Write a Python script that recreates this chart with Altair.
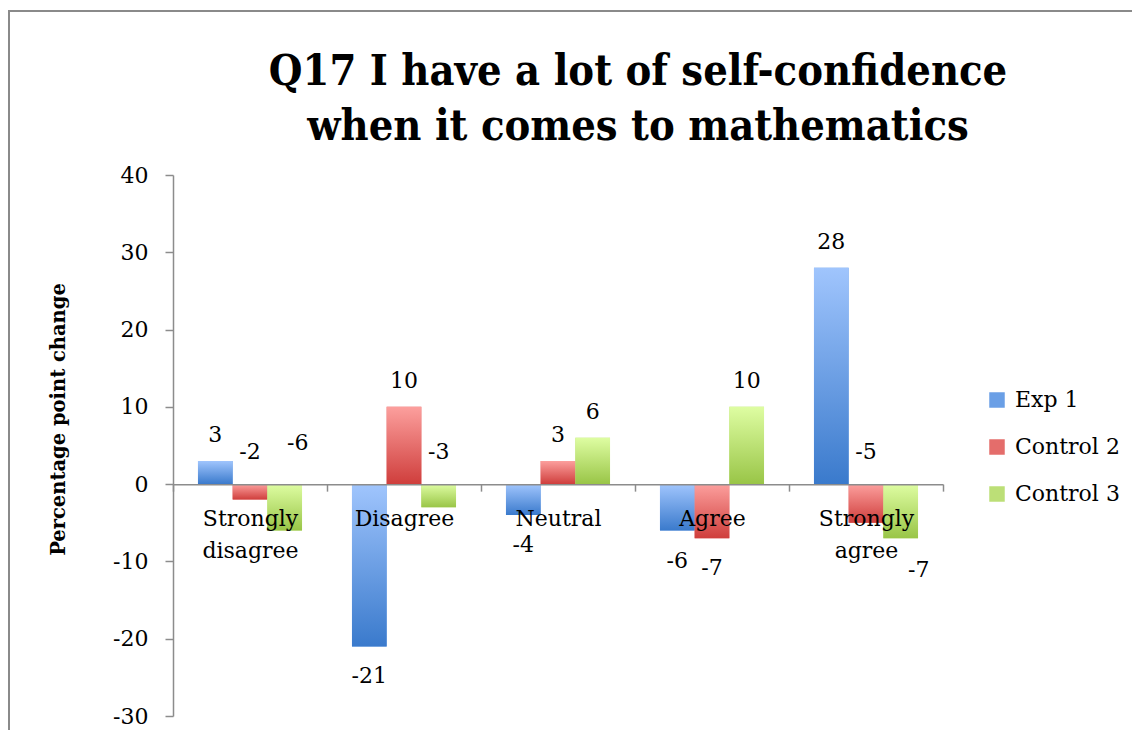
import altair as alt
import pandas as pd

# ---- data ----
categories = ["Strongly disagree", "Disagree", "Neutral", "Agree", "Strongly agree"]
series = ["Exp 1", "Control 2", "Control 3"]
exp1 = [3, -21, -4, -6, 28]
control2 = [-2, 10, 3, -7, -5]
control3 = [-6, -3, 6, 10, -7]
# where each value label sits: "out" = beyond bar end, "above" = above zero line,
# "_r" = nudged to the right as in the reference
exp1_place = ["out", "out", "out", "out", "out"]
control2_place = ["above", "out", "out", "out", "above"]
control3_place = ["above_r", "above", "out", "out", "out_r"]

title_text = "Q17 I have a lot of self-confidence\nwhen it comes to mathematics"
y_title = "Percentage point change"
y_ticks = [-30, -20, -10, 0, 10, 20, 30, 40]

mid_colors = ["#6a9fe6", "#e46d6b", "#bcdf77"]
grad_colors = {
    "Exp 1": ("#a0c5fd", "#3a7acc"),
    "Control 2": ("#fc9f9d", "#cf3e3c"),
    "Control 3": ("#defda2", "#99c547"),
}

rows = []
for s, vals, places in zip(series, [exp1, control2, control3],
                           [exp1_place, control2_place, control3_place]):
    for c, v, p in zip(categories, vals, places):
        rows.append({"category": c, "series": s, "value": v, "label": str(v), "place": p})
df = pd.DataFrame(rows)

W, H = 770, 541
Y_MIN, Y_MAX = -30, 40
FONT = "DejaVu Serif"

x_enc = alt.X("category:N", sort=categories,
              scale=alt.Scale(paddingInner=0, paddingOuter=0),
              axis=alt.Axis(title=None, orient="bottom",
                            offset=-(0 - Y_MIN) * H / (Y_MAX - Y_MIN),
                            labelExpr="split(datum.label, ' ')",
                            labelFont=FONT, labelFontSize=22, labelColor="black",
                            labelLineHeight=32, labelPadding=17, labelAngle=0,
                            tickBand="extent", tickSize=7, tickColor="#8c8c8c",
                            tickWidth=1.5, domainColor="#8c8c8c", domainWidth=1.5,
                            zindex=1))
xo_enc = alt.XOffset("series:N", sort=series,
                     scale=alt.Scale(domain=series, paddingInner=0, paddingOuter=0.72))
y_enc = alt.Y("value:Q",
              scale=alt.Scale(domain=[Y_MIN, Y_MAX], nice=False, zero=False),
              axis=alt.Axis(title=y_title, values=y_ticks, grid=False,
                            labelExpr="toString(datum.value)",
                            labelFont=FONT, labelFontSize=22, labelColor="black",
                            labelPadding=17, tickSize=8, tickColor="#8c8c8c",
                            tickWidth=1.5, domainColor="#8c8c8c", domainWidth=1.5,
                            titleFont=FONT, titleFontSize=19.5, titleFontWeight="bold",
                            titleColor="black", titleAngle=270, titleX=-115, titleY=244,
                            titleAlign="center", titleBaseline="middle"))

base = alt.Chart(df)

bars = base.mark_bar().encode(
    x=x_enc, xOffset=xo_enc, y=y_enc,
    color=alt.Color("series:N", sort=series,
                    scale=alt.Scale(domain=series, range=mid_colors),
                    legend=alt.Legend(title=None, orient="none", legendX=813, legendY=214,
                                      symbolType="square", symbolSize=240,
                                      symbolStrokeWidth=0, labelFont=FONT,
                                      labelFontSize=22, labelColor="black",
                                      labelOffset=7, rowPadding=25)),
)

grad_layers = []
for s in series:
    top, bottom = grad_colors[s]
    g = alt.LinearGradient(gradient="linear",
                           stops=[alt.GradientStop(color=top, offset=0),
                                  alt.GradientStop(color=bottom, offset=1)],
                           x1=0, x2=0, y1=0, y2=1)
    grad_layers.append(
        base.transform_filter(alt.datum.series == s)
        .mark_bar(fill=g)
        .encode(x=alt.X("category:N", sort=categories), xOffset=alt.XOffset("series:N", sort=series),
                y=alt.Y("value:Q"))
    )

txt_kw = dict(font=FONT, fontSize=22, color="black", baseline="middle", align="center")
label_specs = [
    ("datum.value >= 0", "value", 0, -26),
    ("datum.value < 0 && datum.place == 'out'", "value", 0, 30),
    ("datum.value < 0 && datum.place == 'out_r'", "value", 18, 32),
    ("datum.place == 'above'", "zero", 0, -32),
    ("datum.place == 'above_r'", "zero", 13, -41),
]
label_layers = []
for flt, yf, dx, dy in label_specs:
    label_layers.append(
        base.transform_filter(flt).transform_calculate(zero="0")
        .mark_text(dx=dx, dy=dy, **txt_kw).encode(
            x=alt.X("category:N", sort=categories),
            xOffset=alt.XOffset("series:N", sort=series),
            y=alt.Y(f"{yf}:Q"), text="label:N"))

frame = alt.Chart(pd.DataFrame({"f": [0]})).mark_rect(
    filled=False, stroke="#8a8a8a", strokeWidth=2).encode(
    x=alt.value(-164), x2=alt.value(964), y=alt.value(-164), y2=alt.value(620))

title = alt.Chart(pd.DataFrame({"t": [title_text]})).mark_text(
    font="DejaVu Serif Condensed, Liberation Serif", fontSize=43, fontWeight="bold",
    color="black", align="center", baseline="alphabetic", lineBreak="\n",
    lineHeight=55).encode(
    x=alt.value(465), y=alt.value(-90), text="t:N")

chart = alt.layer(bars, *grad_layers, *label_layers, frame, title).properties(
    width=W, height=H,
    autosize=alt.AutoSizeParams(type="none"),
    padding={"left": 165, "top": 167, "right": 189, "bottom": 14},
).configure(background="white", view=alt.ViewConfig(strokeWidth=0, stroke="transparent"))

chart.save("out.html", embed_options={"renderer": "svg", "actions": False})
